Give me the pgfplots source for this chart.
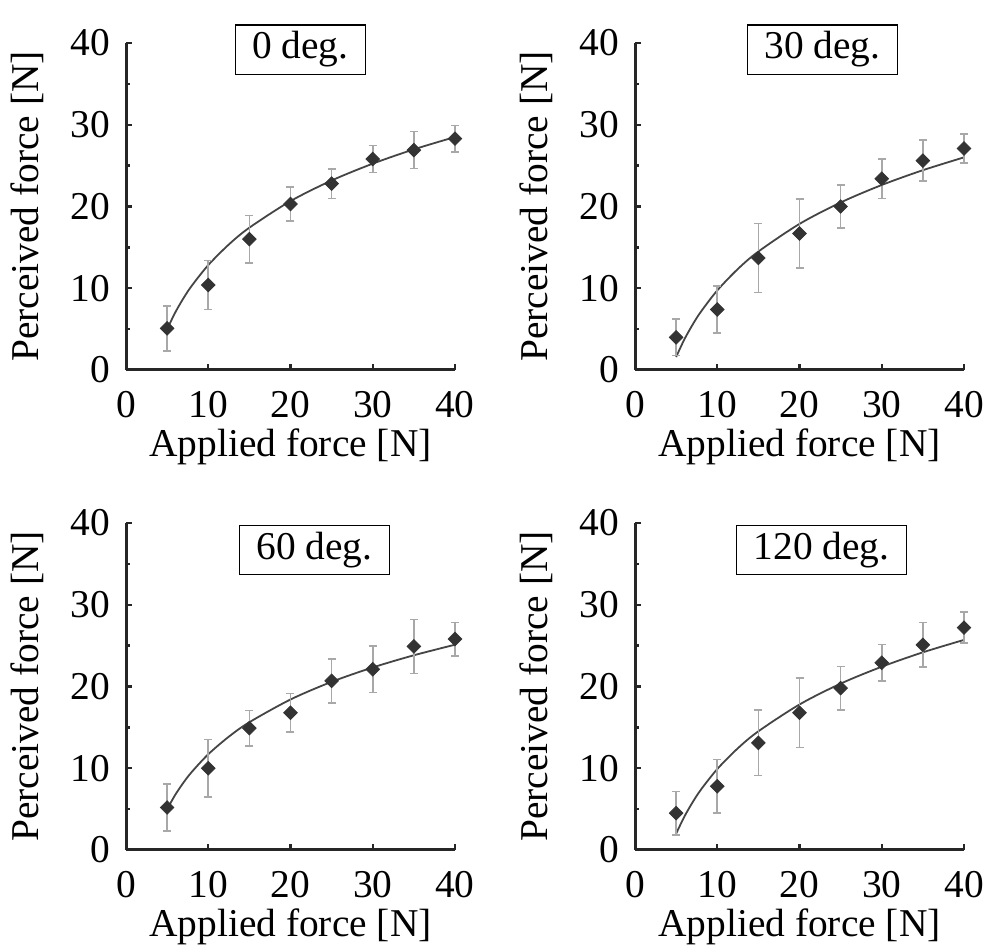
\documentclass[border=0pt]{standalone}
\usepackage{fontspec}
\setmainfont{Liberation Serif}
\usepackage{pgfplots}
\usepackage{pgfplotstable}
\pgfplotsset{compat=1.18}

\definecolor{mk}{HTML}{333333}
\definecolor{eb}{HTML}{A8A8A8}
\definecolor{fitc}{HTML}{454545}

% x  y  e  (mean perceived force and error)
\pgfplotstableread{
x y e
5 5.1 2.75
10 10.4 3.0
15 16.0 2.9
20 20.3 2.1
25 22.8 1.8
30 25.8 1.65
35 26.9 2.25
40 28.3 1.6
}\dzero
\pgfplotstableread{
x y e
5 4.0 2.25
10 7.4 2.9
15 13.7 4.2
20 16.7 4.25
25 20.0 2.6
30 23.4 2.4
35 25.6 2.5
40 27.1 1.8
}\dthirty
\pgfplotstableread{
x y e
5 5.2 2.85
10 10.0 3.5
15 14.9 2.15
20 16.8 2.35
25 20.7 2.7
30 22.1 2.85
35 24.9 3.3
40 25.8 2.05
}\dsixty
\pgfplotstableread{
x y e
5 4.5 2.65
10 7.8 3.25
15 13.1 4.0
20 16.8 4.25
25 19.8 2.65
30 22.9 2.25
35 25.1 2.75
40 27.2 1.9
}\dtwenty

% fitted curves
\pgfplotstableread{
x y
5 5.0
6 7.06
7 8.80
8 10.31
10 12.83
12.5 15.35
15 17.41
20 20.66
25 23.18
30 25.24
35 26.99
40 28.50
}\fzero
\pgfplotstableread{
x y
5 1.59
6 3.74
7 5.54
8 7.11
10 9.73
12.5 12.35
15 14.49
20 17.87
25 20.49
30 22.63
35 24.44
40 26.01
}\fthirty
\pgfplotstableread{
x y
5 5.0
6 6.77
7 8.26
8 9.55
10 11.71
12.5 13.86
15 15.63
20 18.41
25 20.57
30 22.33
35 23.82
40 25.11
}\fsixty
\pgfplotstableread{
x y
5 2.0
6 4.08
7 5.83
8 7.36
10 9.90
12.5 12.44
15 14.52
20 17.80
25 20.35
30 22.42
35 24.18
40 25.70
}\ftwenty

\newcommand\bigfont{\fontsize{19.7}{23}\selectfont}

\tikzset{
  degbox/.style={draw=black, line width=0.6pt, fill=white, font=\bigfont,
    inner xsep=8.5pt, minimum height=22.5pt, anchor=center},
}

\pgfplotsset{
  panel/.style={
    at={#1}, anchor=south west,
    scale only axis, width=164.5pt, height=163.5pt,
    xmin=0, xmax=40, ymin=0, ymax=40,
    axis x line*=bottom, axis y line*=left,
    axis line style={line width=1.5pt, color=black!85},
    every tick/.style={line width=1.2pt, color=black!85},
    tick align=inside,
    major tick length=3pt, minor tick length=2pt,
    xtick={0,10,20,30,40}, ytick={0,10,20,30,40},
    minor ytick={5,15,25,35},
    /pgf/number format/assume math mode=true,
    tick label style={font=\bigfont},
    yticklabel style={xshift=-4.5pt},
    xticklabel style={yshift=-7pt},
    label style={font=\bigfont},
    xlabel={Applied force [N]},
    ylabel={Perceived force [N]},
    xlabel style={at={(axis description cs:0.5,-0.236)}, anchor=center},
    ylabel style={at={(axis description cs:-0.30,0.5)}, anchor=center, rotate=0},
    clip=false,
  },
  fitline/.style={color=fitc, line width=0.9pt, smooth, mark=none},
  pts/.style={only marks, mark=square*, mark size=2.4pt,
    mark options={fill=mk, draw=mk, rotate=45},
    error bars/.cd, y dir=both, y explicit,
    error bar style={color=eb, line width=0.8pt},
    error mark options={rotate=90, mark size=2pt, color=eb, line width=0.8pt}},
}

\begin{document}
\begin{tikzpicture}
\path[use as bounding box] (0,0) rectangle (492.5pt,476pt);

\begin{axis}[panel={(63pt,291pt)}]
\addplot[fitline] table {\fzero};
\addplot[pts] table[y error=e] {\dzero};
\node[degbox] at (axis cs:21.2,39.2) {0 deg.};
\end{axis}

\begin{axis}[panel={(317.5pt,291pt)}]
\addplot[fitline] table {\fthirty};
\addplot[pts] table[y error=e] {\dthirty};
\node[degbox] at (axis cs:22.8,39.2) {30 deg.};
\end{axis}

\begin{axis}[panel={(63pt,51pt)}]
\addplot[fitline] table {\fsixty};
\addplot[pts] table[y error=e] {\dsixty};
\node[degbox] at (axis cs:22.9,36.7) {60 deg.};
\end{axis}

\begin{axis}[panel={(317.5pt,51pt)}]
\addplot[fitline] table {\ftwenty};
\addplot[pts] table[y error=e] {\dtwenty};
\node[degbox] at (axis cs:22.7,36.7) {120 deg.};
\end{axis}
\end{tikzpicture}
\end{document}
